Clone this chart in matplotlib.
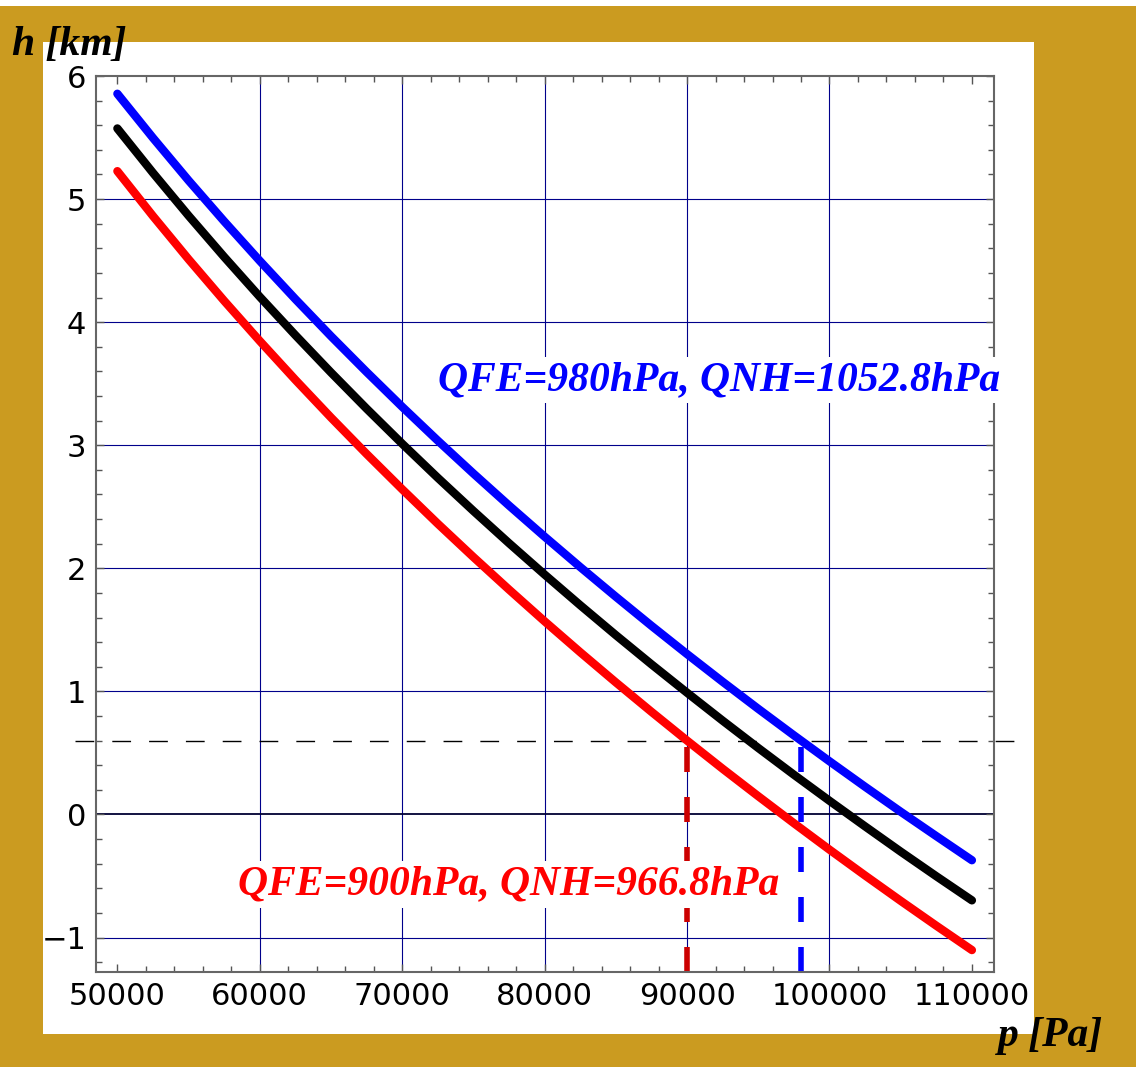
import numpy as np
import matplotlib.pyplot as plt
from matplotlib.patches import Rectangle
from matplotlib.ticker import MultipleLocator

# pressure samples (Pa)
p = [50000, 52500, 55000, 57500, 60000, 62500, 65000, 67500, 70000,
     72500, 75000, 77500, 80000, 82500, 85000, 87500, 90000, 92500,
     95000, 97500, 100000, 102500, 105000, 107500, 110000]

# heights (km)
h_std = [5.574, 5.213, 4.865, 4.530, 4.206, 3.894, 3.591, 3.297, 3.012,
         2.735, 2.466, 2.204, 1.949, 1.700, 1.457, 1.220, 0.989, 0.762,
         0.540, 0.323, 0.111, -0.097, -0.302, -0.502, -0.698]   # black
h_blue = [5.856, 5.497, 5.151, 4.819, 4.498, 4.187, 3.886, 3.595, 3.312,
          3.037, 2.770, 2.510, 2.257, 2.010, 1.769, 1.533, 1.303, 1.078,
          0.858, 0.643, 0.432, 0.225, 0.022, -0.176, -0.372]    # QFE 980
h_red = [5.227, 4.862, 4.511, 4.173, 3.847, 3.531, 3.225, 2.929, 2.642,
         2.362, 2.091, 1.827, 1.569, 1.318, 1.073, 0.834, 0.600, 0.371,
         0.148, -0.071, -0.286, -0.496, -0.702, -0.904, -1.102]  # QFE 900

h_field = 0.6          # field elevation (km)
qfe_red = 90000        # Pa
qfe_blue = 98000       # Pa
label_blue = 'QFE=980hPa, QNH=1052.8hPa'
label_red = 'QFE=900hPa, QNH=966.8hPa'

W, H = 1136, 1067
gold = '#CB9B20'
navy = '#00008B'

fig = plt.figure(figsize=(W / 100, H / 100), dpi=100)
fig.patches.append(Rectangle((0, 0), 1, (H - 6) / H, transform=fig.transFigure,
                             facecolor=gold, edgecolor='none', zorder=-3))
fig.patches.append(Rectangle((43 / W, (H - 1034) / H), 991 / W, 992 / H,
                             transform=fig.transFigure, facecolor='white',
                             edgecolor='none', zorder=-2))

ax = fig.add_axes([96 / W, 95 / H, 898 / W, 896 / H])
ax.set_xlim(48500, 111550)
ax.set_ylim(-1.28, 6.0)

ax.xaxis.set_major_locator(MultipleLocator(10000))
ax.xaxis.set_minor_locator(MultipleLocator(2000))
ax.yaxis.set_major_locator(MultipleLocator(1))
ax.yaxis.set_minor_locator(MultipleLocator(0.2))

# grid (Mathematica style: only interior lines)
for v in range(60000, 100001, 10000):
    ax.axvline(v, color=navy, lw=0.8, zorder=1)
for v in range(-1, 6):
    if v == 0:
        ax.axhline(v, color='#000033', lw=1.3, zorder=1)
    else:
        ax.axhline(v, color=navy, lw=0.8, zorder=1)

ax.tick_params(which='both', direction='in', top=True, right=True,
               color='#555555', width=1)
ax.tick_params(which='major', length=6, labelsize=22, pad=7)
ax.tick_params(which='minor', length=4)
ax.set_yticks(range(-1, 7))
ax.set_yticklabels(['\u22121', '0', '1', '2', '3', '4', '5', '6'])
for lab in ax.get_xticklabels() + ax.get_yticklabels():
    lab.set_family('DejaVu Sans')
for s in ax.spines.values():
    s.set_color('#666666')
    s.set_linewidth(1.5)

# field elevation and QFE markers
ax.plot([47050, 113600], [h_field, h_field], color='black', lw=1,
        dashes=(13.5, 13), clip_on=False, zorder=2)
ax.plot([qfe_red, qfe_red], [-1.28, h_field], color='#CC0000', lw=4,
        dashes=(4.5, 4.5), dash_capstyle='butt', zorder=2)
ax.plot([qfe_blue, qfe_blue], [-1.28, h_field], color='#0000FF', lw=4,
        dashes=(4.5, 4.5), dash_capstyle='butt', zorder=2)

for hv, col in [(h_blue, '#0000FF'), (h_std, 'black'), (h_red, '#FF0000')]:
    ax.plot(p, hv, color=col, lw=6, solid_capstyle='round',
            solid_joinstyle='round', zorder=3)

tfont = dict(family='Liberation Serif', weight='bold', style='italic', size=30)
ax.text(92270, 3.53, label_blue, color='#0000FF', ha='center', va='center',
        bbox=dict(facecolor='white', edgecolor='none', pad=3), zorder=4, **tfont)
ax.text(77510, -0.57, label_red, color='#FF0000', ha='center', va='center',
        bbox=dict(facecolor='white', edgecolor='none', pad=3), zorder=4, **tfont)

fig.text(12 / W, (H - 55) / H, 'h [km]', color='black', ha='left', va='baseline', **tfont)
fig.text(1103 / W, (H - 1046) / H, 'p [Pa]', color='black', ha='right', va='baseline', **tfont)

fig.savefig('out.png', dpi=100)
